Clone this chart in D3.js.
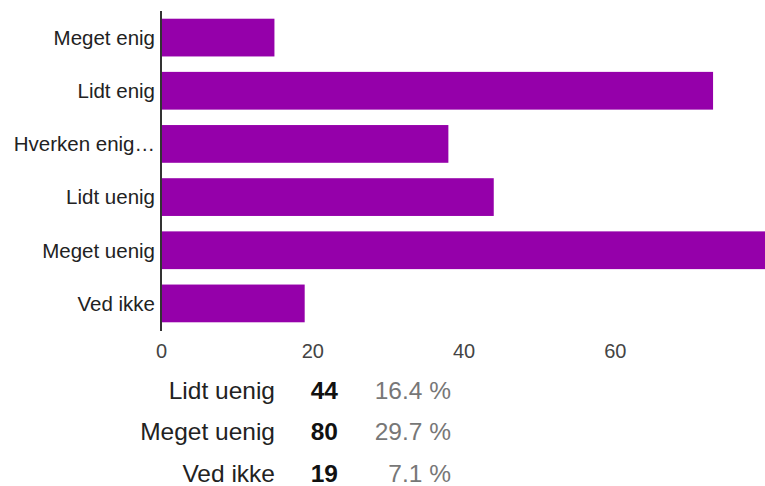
<!DOCTYPE html>
<html>
<head>
<meta charset="utf-8">
<script src="https://cdn.jsdelivr.net/npm/d3@7"></script>
<style>
  html, body { margin: 0; padding: 0; background: #fff; }
  svg { display: block; font-family: Arial, "Liberation Sans", sans-serif; }
</style>
</head>
<body>
<svg id="chart" width="765" height="486"></svg>
<script>
// Answer categories and response counts
const categories = ["Meget enig", "Lidt enig", "Hverken enig…", "Lidt uenig", "Meget uenig", "Ved ikke"];
const counts = [15, 73, 38, 44, 80, 19];
const xTicks = [0, 20, 40, 60];
// Rows listed in the summary table under the chart
const tableRows = ["Lidt uenig", "Meget uenig", "Ved ikke"];

const data = categories.map((c, i) => ({ category: c, count: counts[i] }));
const total = d3.sum(counts);

const svg = d3.select("#chart");

const x = d3.scaleLinear().domain([0, 80]).range([161, 766]);
const y = d3.scaleBand().domain(categories).range([11, 330]).paddingInner(0.29).paddingOuter(0.145);

// Bars
svg.append("g")
  .selectAll("rect")
  .data(data)
  .join("rect")
  .attr("x", x(0))
  .attr("y", d => y(d.category))
  .attr("width", d => x(d.count) - x(0))
  .attr("height", y.bandwidth())
  .attr("fill", "#9500aa");

// Category labels
svg.append("g")
  .selectAll("text")
  .data(categories)
  .join("text")
  .attr("x", 155)
  .attr("y", d => y(d) + y.bandwidth() / 2)
  .attr("dy", "0.36em")
  .attr("text-anchor", "end")
  .attr("font-size", 20.5)
  .attr("fill", "#222")
  .text(d => d);

// Baseline axis
svg.append("line")
  .attr("x1", x(0)).attr("x2", x(0))
  .attr("y1", 11).attr("y2", 331)
  .attr("stroke", "#333")
  .attr("stroke-width", 2);

// Value axis tick labels
const xAxis = d3.axisBottom(x).tickValues(xTicks).tickSize(0).tickPadding(0);
const gx = svg.append("g").attr("transform", "translate(0,344)").call(xAxis);
gx.select(".domain").remove();
gx.selectAll("text")
  .attr("font-size", 20)
  .attr("font-family", "Arial, 'Liberation Sans', sans-serif")
  .attr("fill", "#444")
  .attr("dy", "0.72em");

// Summary table
const rowY = d3.scalePoint().domain(tableRows).range([398.5, 482]);
const table = svg.append("g");
tableRows.forEach(name => {
  const v = counts[categories.indexOf(name)];
  const yy = rowY(name);
  table.append("text")
    .attr("x", 275).attr("y", yy)
    .attr("text-anchor", "end")
    .attr("font-size", 24.5)
    .attr("fill", "#222")
    .text(name);
  table.append("text")
    .attr("x", 338).attr("y", yy)
    .attr("text-anchor", "end")
    .attr("font-size", 24.5)
    .attr("font-weight", "bold")
    .attr("fill", "#111")
    .text(v);
  table.append("text")
    .attr("x", 451).attr("y", yy)
    .attr("text-anchor", "end")
    .attr("font-size", 24.5)
    .attr("fill", "#777")
    .text(d3.format(".1f")(v / total * 100) + " %");
});
</script>
</body>
</html>
